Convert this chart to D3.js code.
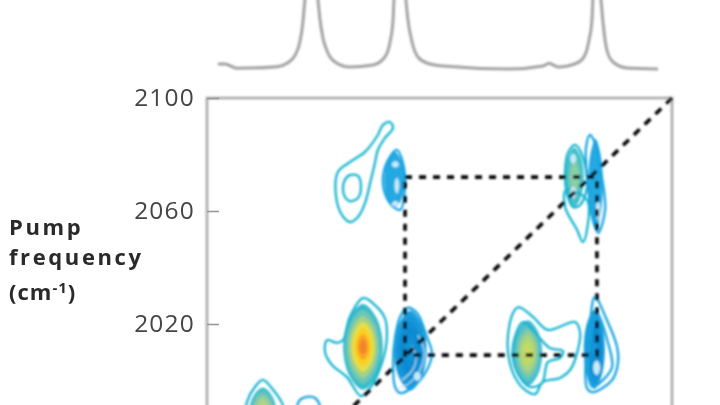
<!DOCTYPE html>
<html>
<head>
<meta charset="utf-8">
<script src="https://cdn.jsdelivr.net/npm/d3@7/dist/d3.min.js"></script>
<style>
html,body{margin:0;padding:0;background:#fff;overflow:hidden}
svg{display:block}
text{font-family:"Open Sans",sans-serif}
</style>
</head>
<body>
<svg id="chart" width="720" height="405"></svg>
<script>
// ---------- data (cm-1) ----------
const pumpTicks = [2100, 2060, 2020];
const axisLabelLines = ["Pump", "frequency"];
const spectrumProbe = [1944.5,1946.9,1951.1,1964.8,1968.2,1971.0,1972.6,1973.6,1974.3,1976.6,1978.8,1979.5,1980.5,1982.2,1984.6,1989.7,1997.6,2001.7,2003.4,2004.5,2004.8,2006.8,2008.9,2009.6,2011,2013,2016.1,2021.6,2044.5,2055.8,2057.9,2061.0,2067.5,2070.2,2071.6,2072.6,2072.9,2074.3,2075.7,2076.4,2077.7,2079.8,2084.6,2095.2];
const spectrumAbs = [.06,.06,.017,.033,.067,.15,.283,.467,.70,1.2,.70,.5,.32,.17,.08,.03,.05,.13,.27,.5,.7,1.2,.7,.5,.28,.13,.07,.04,.01,.04,.067,.03,.07,.15,.3,.5,.7,1.2,.7,.47,.2,.08,.02,.01];

const diagonal = [[2100,2100],[1950,1950]];
const box = [[2008.6,2072],[2074.3,2072],[2074.3,2009],[2008.6,2009]];

// contour outlines: [probe, pump]
const contourA1 = [[2003.4,2091.5],[2004.5,2089.4],[2001.7,2085.8],[1999.3,2081.6],[1998.3,2077],[1996.9,2071],[1994.9,2062.8],[1992.5,2057.9],[1989.7,2056.1],[1987,2058.6],[1985,2065],[1985.6,2073.8],[1989.7,2077.3],[1994.9,2080.9],[1999.3,2086.9],[2001,2090.4]];
const contourA2 = [[1992.5,2072.4],[1993.5,2068.8],[1992.5,2064.6],[1989.7,2063.5],[1987.7,2065.7],[1987.7,2070.3],[1989.7,2072.7]];
const contourB = [[1994.2,2029.2],[1998.3,2026.7],[2001.7,2022.1],[2002.4,2015.4],[2000.7,2006.2],[1996.6,1997.3],[1993.5,1994.5],[1988.7,2001.2],[1983.6,2005.5],[1981.2,2010.1],[1981.9,2014.3],[1985.3,2013.3],[1987.4,2014.3],[1989.7,2022.5]];
const contourD = [[1959.9,2000.2],[1963,1997.3],[1966.8,1991.3],[1967.5,1984.2],[1959.9,1977.2],[1953.8,1984.2],[1954.5,1992.4],[1957.2,1997.7]];
const contourF1 = [[2047.6,2026],[2052.4,2022.5],[2057.5,2017.9],[2066.8,2020.7],[2068.5,2017.2],[2067.5,2009.7],[2065.1,2003.7],[2061.7,2000.9],[2055.8,1999.5],[2053.1,1995.2],[2049,1997.3],[2045.6,2002.6],[2043.8,2010.8],[2044.5,2020.4],[2046.2,2025]];
const contourF2 = [[2049,2020.7],[2053.8,2016.1],[2058.2,2011.5],[2062.7,2010.4],[2061.7,2008],[2057.5,2006.5],[2055.5,1999.1],[2051.4,1997.7],[2048,2001.2],[2045.6,2007.3],[2046.2,2015.4]];
const contourI1 = [[2066.8,2083.4],[2069.5,2079.1],[2070.9,2068.5],[2068.5,2062.1],[2066.1,2061.4],[2064,2066.4],[2063.4,2074.5],[2064.4,2080.5]];
const contourI2 = [[2063.7,2067.4],[2063.4,2061.4],[2067.5,2053.3],[2069.5,2049],[2070.9,2053.3],[2070.9,2063.9]];
const contourC = [[2009.3,2025.7],[2012.7,2023.9],[2016.1,2015.4],[2017.8,2009.7],[2016.1,2003.7],[2011.3,1997.7],[2006.9,1995.6],[2005.2,1997.7],[2004.5,2006.2],[2005.2,2015.4],[2006.9,2022.5]];
const contourE = [[1975,1994.2],[1977.8,1993.8],[1979.5,1990.3],[1976,1986],[1971.9,1989.6],[1972.3,1992.7]];
const contourG1 = [[2073.6,2029.6],[2077.7,2021.4],[2081.2,2011.9],[2081.5,2006.2],[2079.5,2000.2],[2072.9,1995.9],[2070.9,1997.3],[2070.6,2009.7],[2071.9,2020.4]];
const contourG2 = [[2074.3,2023.9],[2078.1,2013.3],[2079.5,2004.8],[2076.4,2000.2],[2072.9,1997.7],[2071.6,2000.2],[2071.9,2012.6]];
const contourH = [[2005.8,2081.6],[2007.9,2077],[2008.6,2068.5],[2006.9,2060.4],[2003.4,2062.8],[2001,2069.9],[2002.4,2077.3]];
const contourJ = [[2071.9,2086.9],[2073.6,2084.1],[2076,2072],[2077.1,2060.4],[2074.7,2052.2],[2072.9,2057.9],[2070.9,2072],[2070.6,2082.7]];

const positiveContours = [contourA1,contourA2,contourB,contourD,contourF1,contourF2,contourI1,contourI2];
const negativeContours = [contourC,contourE,contourG1,contourG2,contourH,contourJ];

// filled peak cores: centre probe, centre pump, half-widths
const coreProbe = [1994.2,2010.4,1959.9,2050.6,2073.4,2005.0,2066.6,2073.8];
const corePump  = [2011.9,2010.6,1988.0,2009.7,2011,2071.0,2072.0,2069.5];
const coreRx    = [6.8,5.6,4.8,5.0,3.6,3.5,3.2,2.5];
const coreRy    = [15.2,14.2,9.5,11.6,14,10,10.5,16];
const corePalette = [0,1,2,3,1,4,5,4];

const ringLevels = [1,.86,.72,.58,.44,.3,.18];
const palettes = [
  ["#38bccb","#6cc6b8","#a4d284","#e6de45","#fbcf20","#f9a526","#f4842a"],
  ["#1c9cdc","#1596d9","#1090d5","#0c8acf","#0d8dd2","#1092d6","#1596d9"],
  ["#3fbdd0","#69c5b8","#8fcda0","#a9d28c","#b5d680","#bbd878","#bfd972"],
  ["#3fbcd2","#5ec2c0","#83cba3","#a4d383","#b7d76f","#c2da64","#c8dc5e"],
  ["#25a8e2","#25a8e2","#25a8e2","#25a8e2","#25a8e2","#25a8e2","#25a8e2"],
  ["#3fc0cc","#44c1c8","#55c4c0","#74c9b0","#8dcfa4","#8dcfa4","#8dcfa4"]
];
const positiveStroke = "#16b4d0";
const negativeStroke = "#19a4e2";

// pale streaks inside the peaks: probe, pump, half-widths
const streakProbe = [2005.3,2005.8,2005.3,2066.2,2066.2,2074.7,2012.8,2074.2];
const streakPump  = [2076.5,2069,2062.5,2078.5,2066.5,2060.4,2001.5,2004.5];
const streakRx    = [1.2,.8,1.2,1.0,1.0,.7,1.2,1.2];
const streakRy    = [1.1,2.8,1,1.8,2.2,3.6,1.6,2.6];
const streakLine1 = [[2013,2016],[2015.2,2010],[2013.7,2003.7],[2009.6,1998.7],[2006.2,1997.3]];
const streakLine2 = [[2011,2012],[2012.4,2008],[2011,2003.5],[2007.6,2000.2]];

// ---------- scales ----------
const svg = d3.select("#chart");
const x = d3.scaleLinear().domain([1940.8,2100]).range([207,672]);
const y = d3.scaleLinear().domain([2100,1940]).range([98,550]);
const yAbs = d3.scaleLinear().domain([0,1]).range([70,-30]);

const defs = svg.append("defs");
defs.append("filter").attr("id","soft").attr("filterUnits","userSpaceOnUse").attr("x",0).attr("y",-60).attr("width",720).attr("height",640)
  .append("feGaussianBlur").attr("stdDeviation",0.8);
defs.append("filter").attr("id","softText").attr("filterUnits","userSpaceOnUse").attr("x",0).attr("y",0).attr("width",720).attr("height",405)
  .append("feGaussianBlur").attr("stdDeviation",0.6);

const plot = svg.append("g").attr("filter","url(#soft)");
const labels = svg.append("g").attr("filter","url(#softText)");

// spectrum
const spectrumLine = d3.line().x(i=>x(spectrumProbe[i])).y(i=>yAbs(spectrumAbs[i])).curve(d3.curveMonotoneX);
plot.append("path").attr("d",spectrumLine(d3.range(spectrumProbe.length)))
  .attr("fill","none").attr("stroke","#a2a2a5").attr("stroke-width",3);

// frame
plot.append("rect").attr("x",x.range()[0]).attr("y",y.range()[0])
  .attr("width",x.range()[1]-x.range()[0]).attr("height",y.range()[1]-y.range()[0])
  .attr("fill","none").attr("stroke","#a8a8a8").attr("stroke-width",2.6);

// y axis
const axis = labels.append("g").attr("transform",`translate(${x.range()[0]},0)`)
  .call(d3.axisLeft(y).tickValues(pumpTicks).tickFormat(d3.format("d")).tickSize(-12).tickPadding(12));
axis.select(".domain").remove();
axis.selectAll("line").attr("stroke","#999").attr("stroke-width",1.6);
axis.selectAll("text").attr("font-size",24.5).attr("fill","#444").style("letter-spacing","1.2px")
  .style("font-family",'"Open Sans",sans-serif');

// axis title
labels.selectAll("text.title").data(axisLabelLines).join("text").attr("class","title")
  .attr("x",9).attr("y",(d,i)=>234.5+i*30.1).text(d=>d)
  .attr("font-size",22).attr("font-weight",700).attr("fill","#2a2a2a").style("letter-spacing","2.6px");
const unit = labels.append("text").attr("x",9).attr("y",300).attr("font-size",22).attr("font-weight",700).attr("fill","#2a2a2a").style("letter-spacing","1px");
unit.append("tspan").text("(cm");
unit.append("tspan").text("-1").attr("dy",-7).attr("font-size",15);
unit.append("tspan").text(")").attr("dy",7);

// filled cores
const lens = d3.line().curve(d3.curveCatmullRomClosed.alpha(0.5));
function lensPoints(cx,cy,rx,ry){
  const k = 0.68;
  return [[0,1],[k,k],[1,0],[k,-k],[0,-1],[-k,-k],[-1,0],[-k,k]]
    .map(p=>[x(cx+p[0]*rx),y(cy+p[1]*ry)]);
}
coreProbe.forEach((cx,i)=>{
  const pal = palettes[corePalette[i]];
  ringLevels.forEach((lv,j)=>{
    plot.append("path").attr("d",lens(lensPoints(cx,corePump[i],coreRx[i]*lv,coreRy[i]*lv))).attr("fill",pal[j]);
  });
});

// contours
const contourPath = d3.line().x(d=>x(d[0])).y(d=>y(d[1])).curve(d3.curveCatmullRomClosed.alpha(0.5));
plot.selectAll("path.pos").data(positiveContours).join("path").attr("class","pos")
  .attr("d",contourPath).attr("fill","none").attr("stroke",positiveStroke).attr("stroke-width",2.3);
plot.selectAll("path.neg").data(negativeContours).join("path").attr("class","neg")
  .attr("d",contourPath).attr("fill","none").attr("stroke",negativeStroke).attr("stroke-width",2.3);

// pale streaks
streakProbe.forEach((cx,i)=>{
  plot.append("path").attr("d",lens(lensPoints(cx,streakPump[i],streakRx[i],streakRy[i]))).attr("fill","#c8ebf8");
});
const openPath = d3.line().x(d=>x(d[0])).y(d=>y(d[1])).curve(d3.curveCatmullRom.alpha(0.5));
plot.selectAll("path.streak").data([streakLine1,streakLine2]).join("path").attr("class","streak")
  .attr("d",openPath).attr("fill","none").attr("stroke","#bfe6f7").attr("stroke-width",1.1);

// dashed guides
const straight = d3.line().x(d=>x(d[0])).y(d=>y(d[1]));
plot.append("path").attr("d",straight(diagonal)).attr("fill","none").attr("stroke","#000")
  .attr("stroke-width",3.6).attr("stroke-dasharray","8 7");
plot.append("path").attr("d",straight(box)+"Z").attr("fill","none").attr("stroke","#000")
  .attr("stroke-width",3.6).attr("stroke-dasharray","7 7");
</script>
</body>
</html>
